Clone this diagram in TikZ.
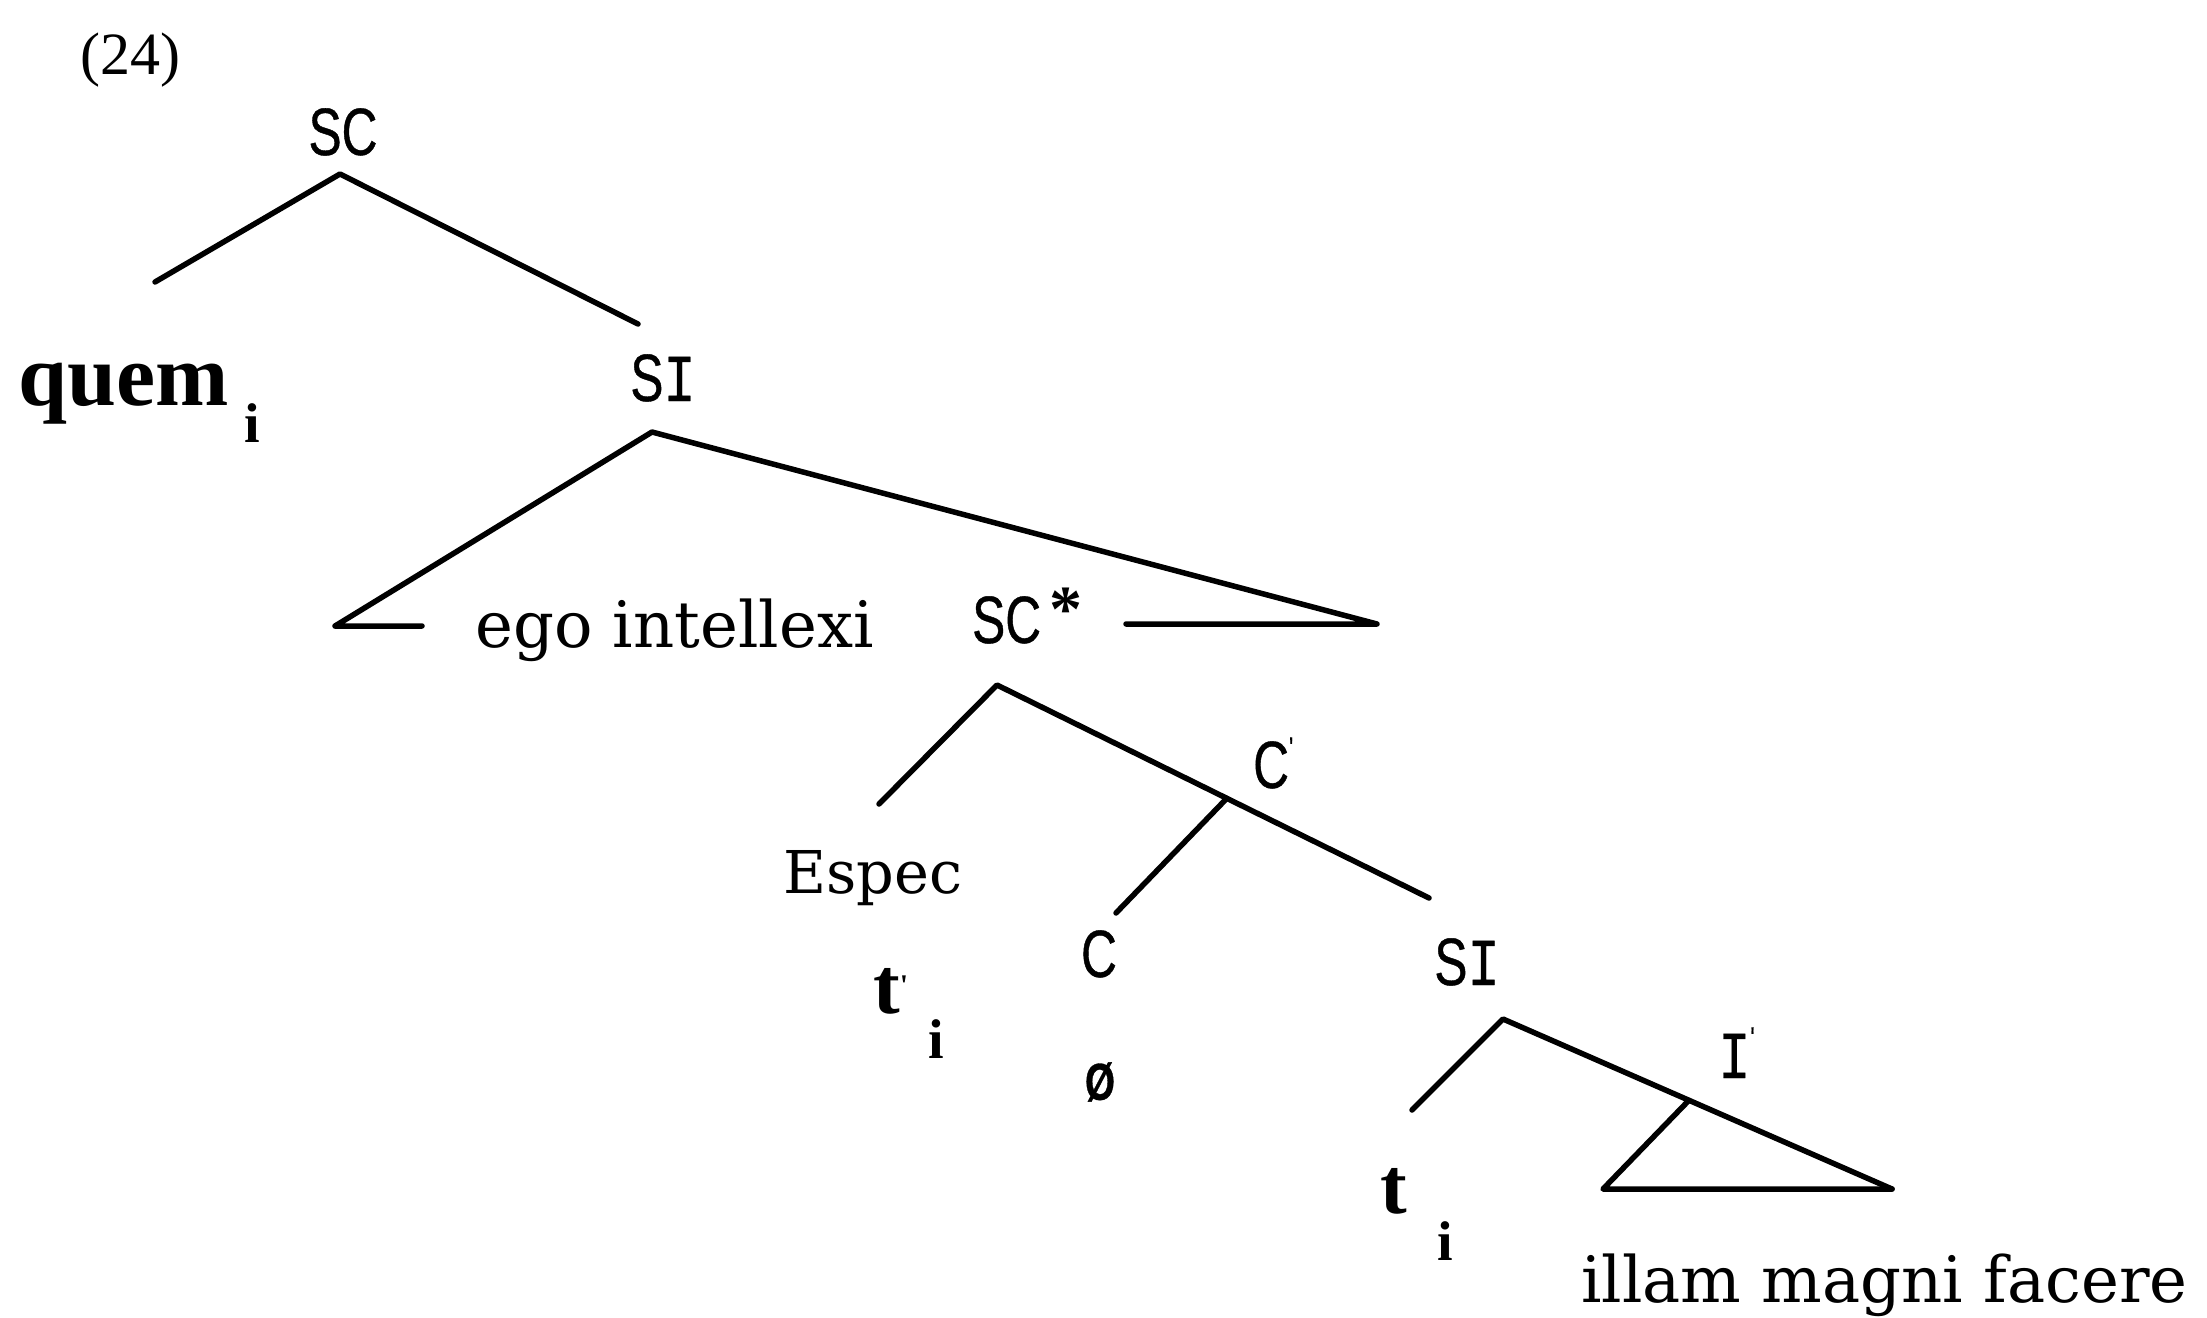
\documentclass[tikz,border=0pt]{standalone}
\usepackage{fontspec}
\setmainfont{Liberation Serif}
\newfontfamily\labf[FakeStretch=0.74,FakeBold=0.6]{Liberation Sans}
\newfontfamily\labmono[FakeStretch=0.8,FakeBold=0.6]{Liberation Mono}
\newfontfamily\serf{DejaVu Serif}
\usetikzlibrary{calc}
\newcommand\mypr{\raisebox{30pt}{\fontsize{30}{30}\selectfont\textquotesingle}}
\newcommand\serI{{\labmono I}}
\tikzset{
  br/.style={line width=5.5pt, line cap=round, line join=round},
  lab/.style={inner sep=0pt, anchor=base, font=\labf\fontsize{67}{67}\selectfont},
  txt/.style={inner sep=0pt, anchor=base west, font=\serf\fontsize{64}{64}\selectfont},
  bld/.style={inner sep=0pt, anchor=base west, font=\bfseries\fontsize{88}{88}\selectfont},
  sub/.style={inner sep=0pt, anchor=base, font=\bfseries\fontsize{56}{56}\selectfont},
}
\begin{document}
\begin{tikzpicture}[x=1pt,y=-1pt]
\useasboundingbox (0,0) rectangle (2207,1317);
% example number
\node[inner sep=0pt, anchor=base, font=\fontsize{60}{60}\selectfont] (num) at (130,74) {(24)};
% labels
\node[lab] (SC) at (343,155) {SC};
\node[bld] (quem) at (18,405) {quem};
\node[sub] (quemi) at (252,442) {i};
\node[lab] (SI) at (663,401) {S\serI};
\node[txt] (ego) at (475,647) {ego intellexi};
\node[lab, anchor=base west] (SCs) at (972,643) {SC};
\node[inner sep=0pt, font=\bfseries\fontsize{66}{66}\selectfont] (ast) at (1066,610) {*};
\node[lab, anchor=base west] (Cbar) at (1253,788) {C\mypr};
\node[txt, font=\serf\fontsize{59}{59}\selectfont] (espec) at (783,893) {Espec};
\node[bld, font=\bfseries\fontsize{80}{80}\selectfont] (tp) at (873,1013) {t\raisebox{18pt}{\fontsize{30}{30}\selectfont\textquotesingle}};
\node[sub] (tpi) at (936,1058) {i};
\node[lab] (C) at (1099,977) {C};
\node[inner sep=0pt, font=\labf\bfseries\fontsize{52}{52}\selectfont] (null) at (1100,1082) {Ø};
\node[lab] (SI2) at (1467,985) {S\serI};
\node[lab, anchor=base west] (Ibar) at (1718,1078) {\serI\mypr};
\node[bld, font=\bfseries\fontsize{80}{80}\selectfont] (t) at (1380,1213) {t};
\node[sub] (ti) at (1445,1260) {i};
\node[txt] (illam) at (1581,1302) {illam magni facere};
% branch points
\coordinate (a0) at (340,174);
\coordinate (q0) at (155,282);
\coordinate (s0) at (638,324);
\coordinate (a1) at (652,432);
\coordinate (t1L) at (335,626);
\coordinate (t1Lb) at (422,626);
\coordinate (t1R) at (1377,624);
\coordinate (t1Rb) at (1126,624);
\coordinate (a2) at (997,685);
\coordinate (e2) at (879,804);
\coordinate (r2) at (1429,898);
\coordinate (c2) at ($(a2)!0.532!(r2)$);
\coordinate (cc) at (1116,913);
\coordinate (a3) at (1503,1019);
\coordinate (l3) at (1412,1110);
\coordinate (r3) at (1892,1189);
\coordinate (i3) at ($(a3)!0.478!(r3)$);
\coordinate (b3) at (1603,1189);
% branches
\draw[br] (q0) -- (a0) -- (s0);
\draw[br] (t1Lb) -- (t1L) -- (a1) -- (t1R) -- (t1Rb);
\draw[br] (e2) -- (a2) -- (r2);
\draw[br] (c2) -- (cc);
\draw[br] (l3) -- (a3) -- (r3);
\draw[br] (i3) -- (b3) -- (r3);
\end{tikzpicture}
\end{document}
